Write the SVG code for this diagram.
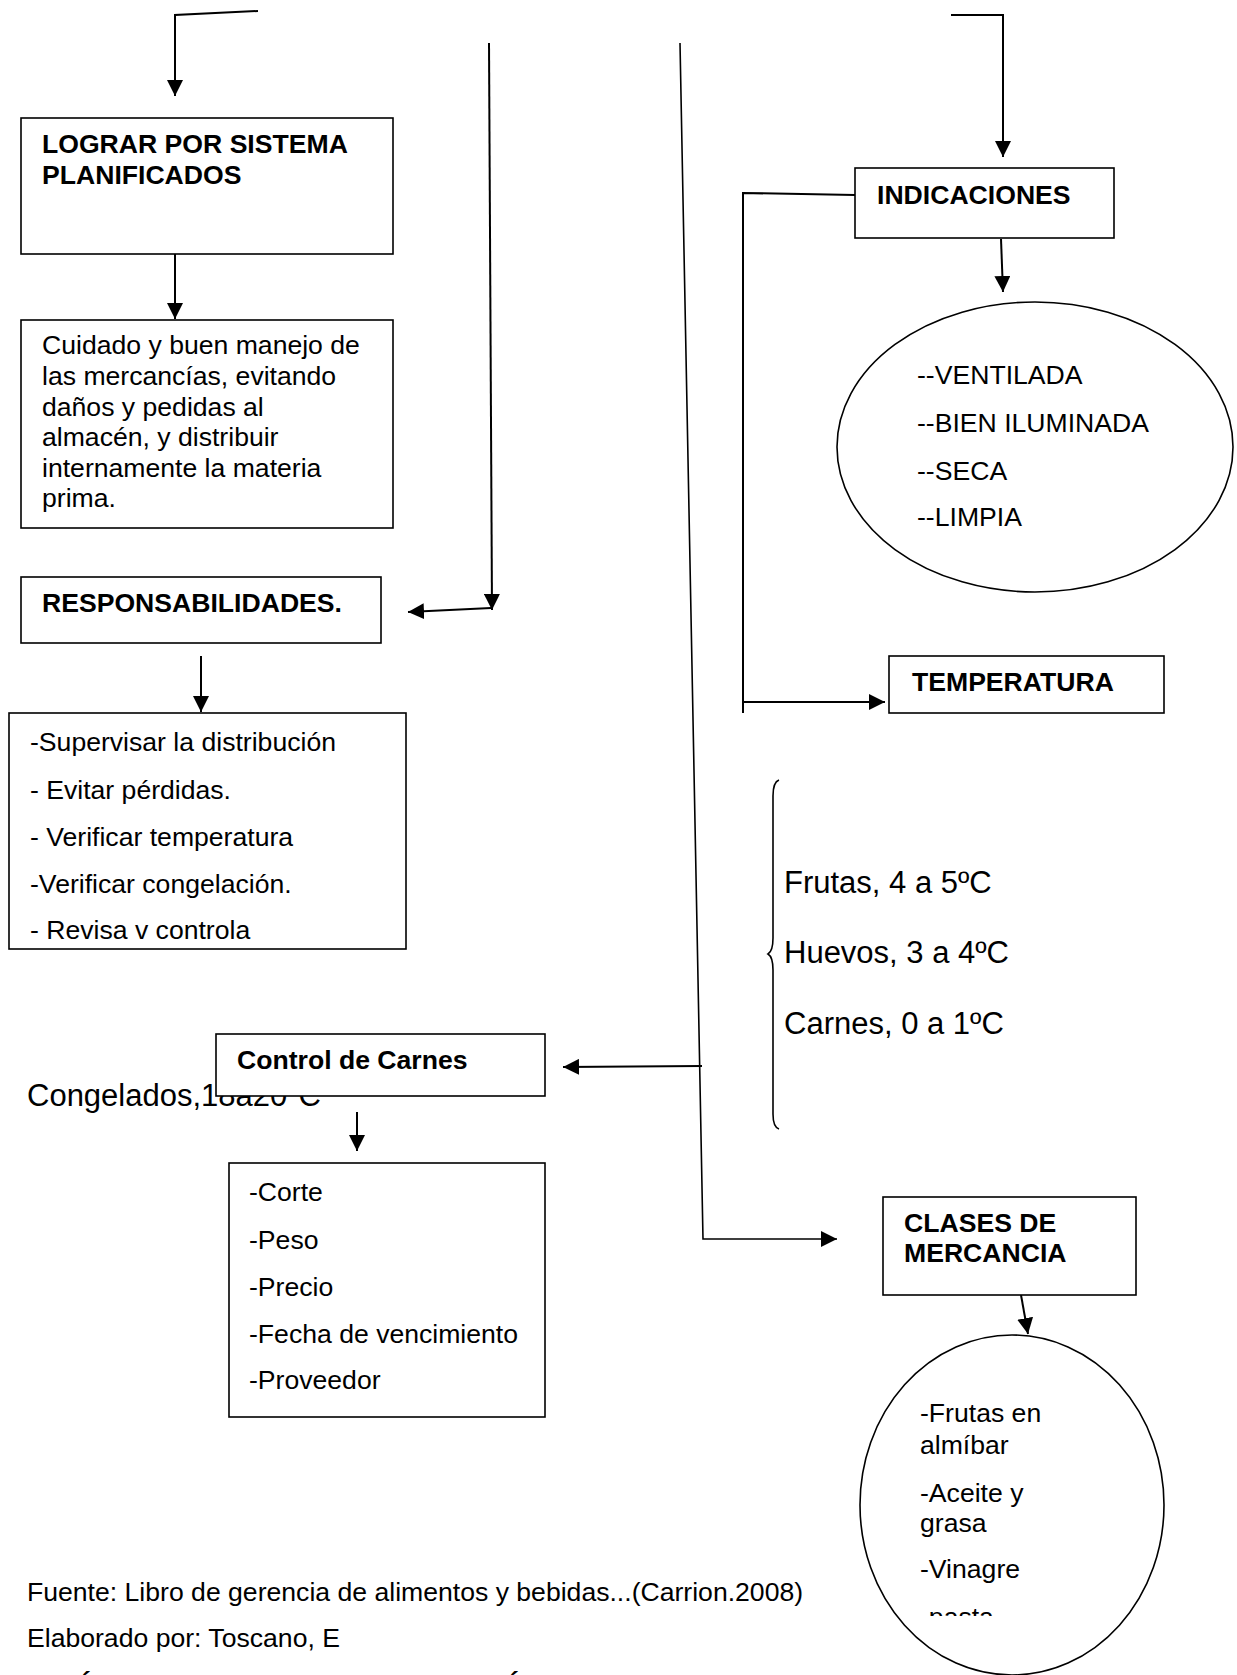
<svg xmlns="http://www.w3.org/2000/svg" width="1237" height="1675" viewBox="0 0 1237 1675">
  <style>
    .box { fill: #ffffff; stroke: #000000; stroke-width: 1.6; }
    .oval { fill: #ffffff; stroke: #000000; stroke-width: 1.6; }
    .wire { fill: none; stroke: #000000; stroke-width: 2; }
    .thin { fill: none; stroke: #000000; stroke-width: 1.6; }
    .t { font-family: "Liberation Sans", Arial, sans-serif; font-size: 26.6px; fill: #000000; }
    .b { font-family: "Liberation Sans", Arial, sans-serif; font-size: 26.6px; font-weight: bold; fill: #000000; }
    .big { font-family: "Liberation Sans", Arial, sans-serif; font-size: 31px; fill: #000000; }
  </style>
  <defs>
    <marker id="arrow" markerUnits="userSpaceOnUse" markerWidth="16" markerHeight="16" refX="16" refY="8" orient="auto">
      <path d="M0,0 L16,8 L0,16 Z" fill="#000000"/>
    </marker>
    <clipPath id="clip-pasta">
      <rect x="880" y="1330" width="280" height="286"/>
    </clipPath>
  </defs>

  <rect x="0" y="0" width="1237" height="1675" fill="#ffffff"/>

  <!-- text partly hidden behind the "Control de Carnes" box -->
  <text class="big" x="27" y="1106">Congelados,18a20ºC</text>

  <!-- connectors -->
  <g id="connectors">
    <polyline class="wire" points="258,11 175,15 175,96" marker-end="url(#arrow)"/>
    <line class="wire" x1="175" y1="254" x2="175" y2="319" marker-end="url(#arrow)"/>
    <line class="wire" x1="489" y1="43" x2="492" y2="610" marker-end="url(#arrow)"/>
    <line class="wire" x1="491" y1="608" x2="408" y2="612" marker-end="url(#arrow)"/>
    <line class="wire" x1="201" y1="656" x2="201" y2="712" marker-end="url(#arrow)"/>
    <polyline class="wire" points="951,15 1003,15 1003,157" marker-end="url(#arrow)"/>
    <line class="wire" x1="1001" y1="239" x2="1003" y2="292" marker-end="url(#arrow)"/>
    <polyline class="wire" points="855,195 743,193 743,713"/>
    <line class="wire" x1="743" y1="702" x2="885" y2="702" marker-end="url(#arrow)"/>
    <polyline class="thin" points="680,43 703,1239 837,1239" marker-end="url(#arrow)"/>
    <line class="wire" x1="702" y1="1066" x2="563" y2="1067" marker-end="url(#arrow)"/>
    <line class="wire" x1="357" y1="1112" x2="357" y2="1151" marker-end="url(#arrow)"/>
    <line class="wire" x1="1021" y1="1295" x2="1028" y2="1334" marker-end="url(#arrow)"/>
  </g>

  <g id="node-lograr">
    <rect class="box" x="21" y="118" width="372" height="136"/>
    <text class="b" x="42" y="153">LOGRAR POR SISTEMA</text>
    <text class="b" x="42" y="184">PLANIFICADOS</text>
  </g>

  <g id="node-cuidado">
    <rect class="box" x="21" y="320" width="372" height="208"/>
    <text class="t" x="42" y="354">Cuidado y buen manejo de</text>
    <text class="t" x="42" y="385">las mercancías, evitando</text>
    <text class="t" x="42" y="416">daños y pedidas al</text>
    <text class="t" x="42" y="446">almacén, y distribuir</text>
    <text class="t" x="42" y="477">internamente la materia</text>
    <text class="t" x="42" y="507">prima.</text>
  </g>

  <g id="node-responsabilidades">
    <rect class="box" x="21" y="577" width="360" height="66"/>
    <text class="b" x="42" y="612">RESPONSABILIDADES.</text>
  </g>

  <g id="node-lista-responsabilidades">
    <rect class="box" x="9" y="713" width="397" height="236"/>
    <text class="t" x="30" y="751">-Supervisar la distribución</text>
    <text class="t" x="30" y="799">- Evitar pérdidas.</text>
    <text class="t" x="30" y="846">- Verificar temperatura</text>
    <text class="t" x="30" y="893">-Verificar congelación.</text>
    <text class="t" x="30" y="939">- Revisa v controla</text>
  </g>

  <g id="node-indicaciones">
    <rect class="box" x="855" y="168" width="259" height="70"/>
    <text class="b" x="877" y="204">INDICACIONES</text>
  </g>

  <g id="node-condiciones">
    <ellipse class="oval" cx="1035" cy="447" rx="198" ry="145"/>
    <text class="t" x="917" y="384">--VENTILADA</text>
    <text class="t" x="917" y="432">--BIEN ILUMINADA</text>
    <text class="t" x="917" y="480">--SECA</text>
    <text class="t" x="917" y="526">--LIMPIA</text>
  </g>

  <g id="node-temperatura">
    <rect class="box" x="889" y="656" width="275" height="57"/>
    <text class="b" x="912" y="691">TEMPERATURA</text>
  </g>

  <g id="node-rangos">
    <path class="thin" d="M779,780 Q773,782 773,796 L773,938 Q773,951 768,954 Q773,957 773,970 L773,1114 Q773,1127 779,1129"/>
    <text class="big" x="784" y="893">Frutas, 4 a 5ºC</text>
    <text class="big" x="784" y="963">Huevos, 3 a 4ºC</text>
    <text class="big" x="784" y="1034">Carnes, 0 a 1ºC</text>
  </g>

  <g id="node-control-carnes">
    <rect class="box" x="216" y="1034" width="329" height="62"/>
    <text class="b" x="237" y="1069">Control de Carnes</text>
  </g>

  <g id="node-lista-carnes">
    <rect class="box" x="229" y="1163" width="316" height="254"/>
    <text class="t" x="249" y="1201">-Corte</text>
    <text class="t" x="249" y="1249">-Peso</text>
    <text class="t" x="249" y="1296">-Precio</text>
    <text class="t" x="249" y="1343">-Fecha de vencimiento</text>
    <text class="t" x="249" y="1389">-Proveedor</text>
  </g>

  <g id="node-clases">
    <rect class="box" x="883" y="1197" width="253" height="98"/>
    <text class="b" x="904" y="1232">CLASES DE</text>
    <text class="b" x="904" y="1262">MERCANCIA</text>
  </g>

  <g id="node-mercancias">
    <ellipse class="oval" cx="1012" cy="1505" rx="152" ry="170"/>
    <text class="t" x="920" y="1422">-Frutas en</text>
    <text class="t" x="920" y="1454">almíbar</text>
    <text class="t" x="920" y="1502">-Aceite y</text>
    <text class="t" x="920" y="1532">grasa</text>
    <text class="t" x="920" y="1578">-Vinagre</text>
    <text class="t" x="920" y="1626" clip-path="url(#clip-pasta)">-pasta</text>
  </g>

  <g id="fuente">
    <text class="t" x="27" y="1601">Fuente: Libro de gerencia de alimentos y bebidas...(Carrion.2008)</text>
    <text class="t" x="27" y="1647">Elaborado por: Toscano, E</text>
    <text class="b" x="82" y="1690">´</text>
    <text class="b" x="510" y="1690">´</text>
  </g>
</svg>
